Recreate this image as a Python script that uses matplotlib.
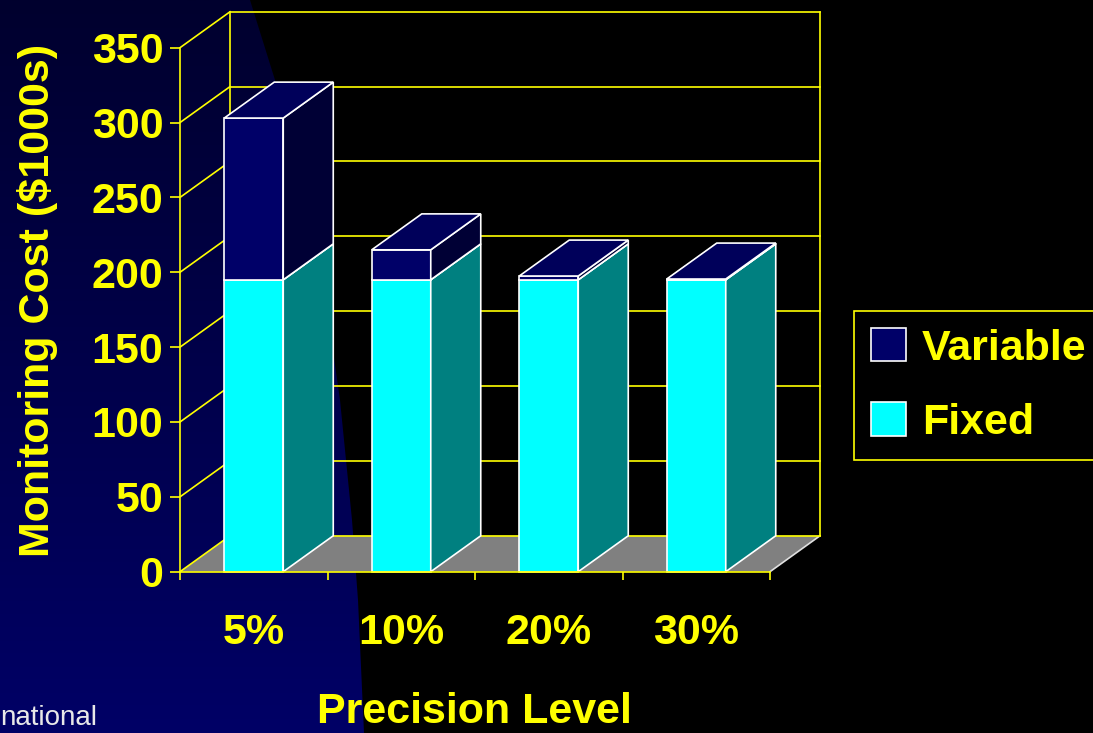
import matplotlib
matplotlib.use("Agg")
import matplotlib.pyplot as plt
from matplotlib.patches import Polygon, Patch
from matplotlib import font_manager
import numpy as np

categories = ["5%", "10%", "20%", "30%"]
fixed = [195, 195, 195, 195]
variable = [108, 20, 2.5, 0.5]
y_ticks = [0, 50, 100, 150, 200, 250, 300, 350]

YELLOW = "#ffff00"
FIXED_FRONT, FIXED_SIDE = "#00ffff", "#008080"
VAR_FRONT, VAR_SIDE, VAR_TOP = "#000068", "#000035", "#00005a"

# pick a narrow bold face if there is one
names = {f.name for f in font_manager.fontManager.ttflist}
narrow = "Liberation Sans Narrow" in names
FONT = "Liberation Sans Narrow" if narrow else "Liberation Sans"
FS = 37 if narrow else 31
plt.rcParams["font.family"] = [FONT, "DejaVu Sans"]

W, H = 1093, 733
fig = plt.figure(figsize=(W / 100, H / 100), dpi=100, facecolor="black")

# backdrop: dark blue swoosh on the left side of the slide
bg = fig.add_axes([0, 0, 1, 1], zorder=0)
bg.set_xlim(0, W)
bg.set_ylim(H, 0)
bg.axis("off")
edge_x = [250, 275, 300, 320, 340, 352, 358, 364]
edge_y = [0, 80, 170, 260, 400, 520, 600, 733]
shape = Polygon([(0, 0)] + list(zip(edge_x, edge_y)) + [(0, H)], closed=True,
                facecolor="none", edgecolor="none")
bg.add_patch(shape)
grad = np.linspace(0, 1, 256).reshape(-1, 1)
cmap = matplotlib.colors.LinearSegmentedColormap.from_list("navy", ["#00002e", "#000066"])
img = bg.imshow(grad, cmap=cmap, extent=[0, W, H, 0], aspect="auto")
img.set_clip_path(shape)
bg.text(0, 725, "national", color="#e8e8e8", fontsize=20,
        family=["Liberation Sans", "DejaVu Sans"], ha="left", va="baseline")

# chart axes: x spans the four categories, y the cost in $1000s
ax = fig.add_axes([180 / W, (H - 571.7) / H, 590 / W, 524 / H], zorder=1)
ax.set_facecolor("none")
ax.set_xlim(-0.5, 3.5)
ax.set_ylim(0, 350)

DX, DY = 0.339, 24.0  # depth offset of the 3-D box
x0, x1 = -0.5, 3.5

# floor
ax.add_patch(Polygon([(x0, 0), (x1, 0), (x1 + DX, DY), (x0 + DX, DY)],
                     facecolor="#808080", edgecolor="none", clip_on=False, zorder=1))
ax.plot([x1, x1 + DX], [0, DY], color="#e0e0e0", lw=1.2, clip_on=False, zorder=2)

# back wall and side wall gridlines
for v in y_ticks:
    ax.plot([x0 + DX, x1 + DX], [v + DY, v + DY], color=YELLOW, lw=1.2, clip_on=False, zorder=2)
    ax.plot([x0, x0 + DX], [v, v + DY], color=YELLOW, lw=1.2, clip_on=False, zorder=2)
for xv in (x0 + DX, x1 + DX):
    ax.plot([xv, xv], [DY, 350 + DY], color=YELLOW, lw=1.2, clip_on=False, zorder=2)


def box(x, y0, y1, front, side, top, w=0.2):
    a, b = x - w, x + w
    faces = [
        ([(a, y0), (b, y0), (b, y1), (a, y1)], front),
        ([(b, y0), (b + DX, y0 + DY), (b + DX, y1 + DY), (b, y1)], side),
        ([(a, y1), (b, y1), (b + DX, y1 + DY), (a + DX, y1 + DY)], top),
    ]
    for pts, col in faces:
        ax.add_patch(Polygon(pts, facecolor=col, edgecolor="white", lw=1.2,
                             joinstyle="miter", clip_on=False, zorder=3))


for i, (f, v) in enumerate(zip(fixed, variable)):
    box(i, 0, f, FIXED_FRONT, FIXED_SIDE, FIXED_FRONT)
    box(i, f, f + v, VAR_FRONT, VAR_SIDE, VAR_TOP)

for s in ("top", "right"):
    ax.spines[s].set_visible(False)
for s in ("left", "bottom"):
    ax.spines[s].set_color(YELLOW)
    ax.spines[s].set_linewidth(1.2)
    ax.spines[s].set_zorder(4)

ax.set_yticks(y_ticks)
ax.set_yticklabels([str(v) for v in y_ticks])
ax.tick_params(axis="y", colors=YELLOW, length=7, width=1.2, pad=5,
               labelsize=FS)
ax.set_xticks(np.arange(-0.5, 4, 1.0))
ax.set_xticklabels([])
ax.tick_params(axis="x", which="major", colors=YELLOW, length=6, width=1.2)
ax.set_xticks(range(len(categories)), minor=True)
ax.set_xticklabels(categories, minor=True)
ax.tick_params(axis="x", which="minor", length=0, pad=30, labelsize=FS, labelcolor=YELLOW)
for lab in ax.get_xticklabels(minor=True) + ax.get_yticklabels():
    lab.set_fontweight("bold")

fig.text(38 / W, (H - 300) / H, "Monitoring Cost ($1000s)", rotation=90,
         color=YELLOW, fontsize=FS, fontweight="bold", ha="center", va="center")
fig.text(474 / W, (H - 723) / H, "Precision Level", color=YELLOW,
         fontsize=FS, fontweight="bold", ha="center", va="baseline")

handles = [Patch(facecolor=VAR_FRONT, edgecolor="white", lw=1.2, label="Variable"),
           Patch(facecolor=FIXED_FRONT, edgecolor="white", lw=1.2, label="Fixed")]
leg = fig.legend(handles=handles, loc="upper left",
                 bbox_to_anchor=(854 / W, (H - 311) / H), fontsize=FS,
                 handlelength=0.81, handleheight=0.81, handletextpad=0.37,
                 borderpad=0.4, labelspacing=0.78, borderaxespad=0,
                 fancybox=False, framealpha=1, facecolor="black", edgecolor=YELLOW)
leg.get_frame().set_linewidth(1.2)
for t in leg.get_texts():
    t.set_color(YELLOW)
    t.set_fontweight("bold")

fig.savefig("out.png", dpi=100, facecolor="black")
